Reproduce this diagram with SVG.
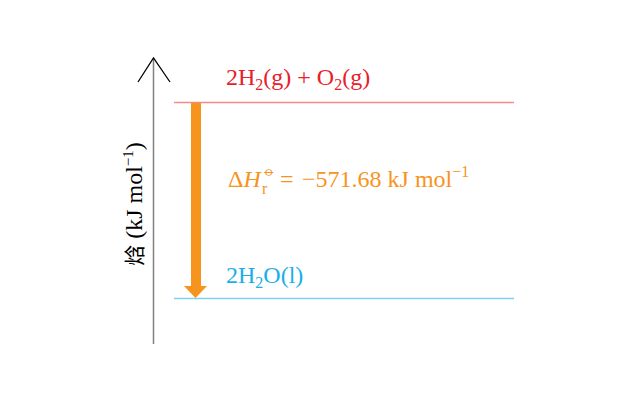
<svg xmlns="http://www.w3.org/2000/svg" width="641" height="401" viewBox="0 0 641 401">
<style>
.t{font-family:"Liberation Serif","Times New Roman",serif;font-size:24px}
.sub{font-size:16px}
</style>
<rect width="641" height="401" fill="#fff"/>
<g id="axis">
<line x1="153.5" y1="58" x2="153.5" y2="344" stroke="#808080" stroke-width="1.5"/>
<polyline points="138,82 153.5,58 170,82" fill="none" stroke="#000" stroke-width="1.3"/>
<text class="t" transform="translate(142,204) rotate(-90)" text-anchor="middle" fill="#000" font-size="23"><tspan font-family="'Noto Sans CJK SC',sans-serif" font-size="21">焓</tspan> (kJ mol<tspan font-size="15" dy="-9">−1</tspan><tspan dy="9">)</tspan></text>
</g>
<g id="reactants">
<line x1="174" y1="102.5" x2="514" y2="102.5" stroke="#f28a8a" stroke-width="1.5"/>
<text class="t" x="226" y="85" fill="#e8202a">2H<tspan class="sub" dy="5">2</tspan><tspan dy="-5">(g) + O</tspan><tspan class="sub" dy="5">2</tspan><tspan dy="-5">(g)</tspan></text>
</g>
<g id="products">
<line x1="174" y1="298.5" x2="514" y2="298.5" stroke="#80d0f0" stroke-width="1.5"/>
<text class="t" x="226" y="283" fill="#1aaee8">2H<tspan class="sub" dy="5">2</tspan><tspan dy="-5">O(l)</tspan></text>
</g>
<g id="connectors">
<rect x="191" y="103" width="10" height="184" fill="#f7941d"/>
<polygon points="184,286 207,286 195.5,298" fill="#f7941d"/>
</g>
<g id="label">
<text class="t" x="228" y="187" fill="#f7941d" font-size="25">Δ<tspan font-style="italic">H</tspan><tspan class="sub" x="262" dy="7">r</tspan><tspan x="263" dy="-18" font-family="'DejaVu Sans',sans-serif" font-size="15">⦵</tspan><tspan x="280" dy="11">=</tspan><tspan x="302">−571.68 kJ mol</tspan><tspan class="sub" dy="-10">−1</tspan></text>
</g>
</svg>
